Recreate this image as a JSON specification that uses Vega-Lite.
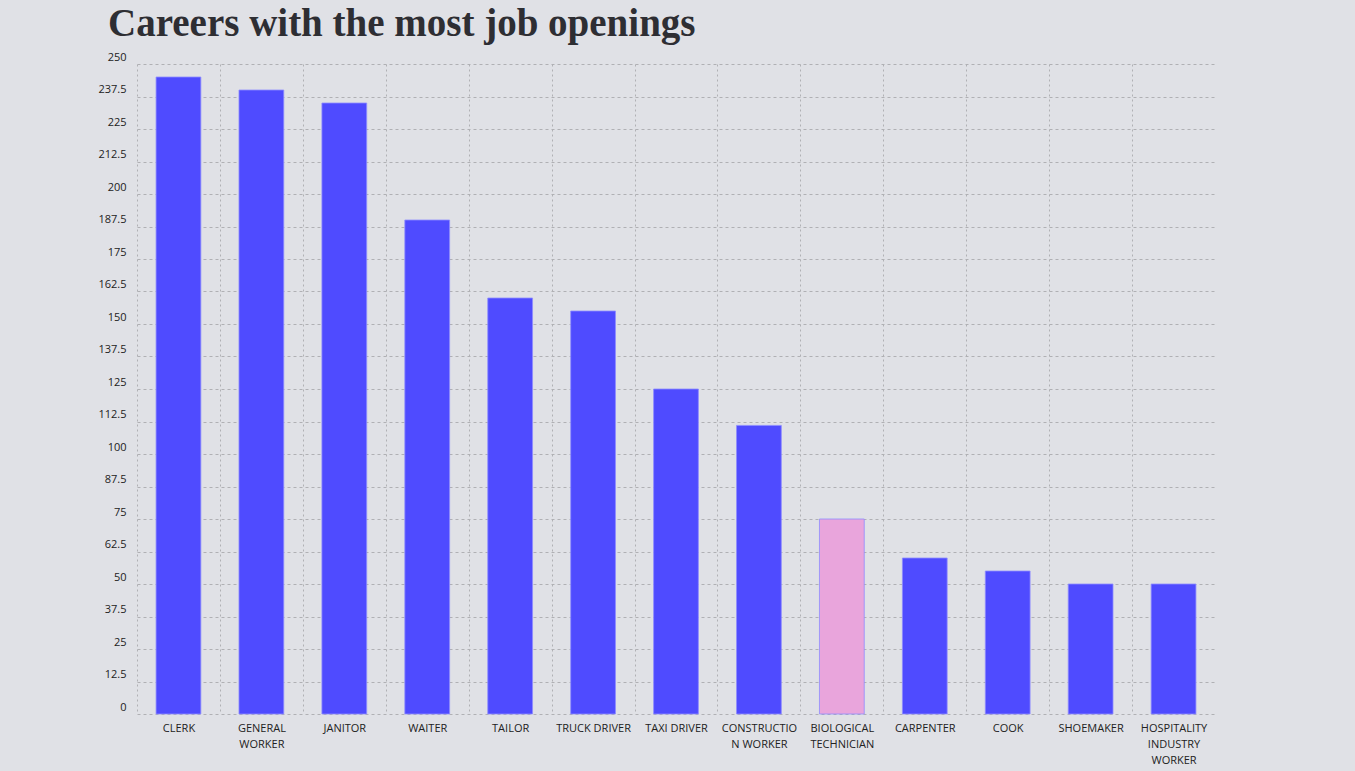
{
  "$schema": "https://vega.github.io/schema/vega-lite/v6.json",
  "autosize": {"type": "none"},
  "padding": {"left": 137, "top": 64, "right": 140, "bottom": 57},
  "width": 1078,
  "height": 650,
  "background": "#e0e1e6",
  "config": {"view": {"stroke": null}, "font": "Open Sans"},
  "title": {
    "text": "Careers with the most job openings",
    "anchor": "start",
    "frame": "group",
    "dx": -29,
    "offset": 7,
    "font": "Liberation Serif",
    "fontSize": 39,
    "fontWeight": "bold",
    "color": "#2e2e33"
  },
  "data": {
    "values": [
      {"career": "CLERK", "openings": 245, "highlight": "no"},
      {"career": "GENERAL WORKER", "openings": 240, "highlight": "no"},
      {"career": "JANITOR", "openings": 235, "highlight": "no"},
      {"career": "WAITER", "openings": 190, "highlight": "no"},
      {"career": "TAILOR", "openings": 160, "highlight": "no"},
      {"career": "TRUCK DRIVER", "openings": 155, "highlight": "no"},
      {"career": "TAXI DRIVER", "openings": 125, "highlight": "no"},
      {"career": "CONSTRUCTION WORKER", "openings": 111, "highlight": "no"},
      {"career": "BIOLOGICAL TECHNICIAN", "openings": 75, "highlight": "yes"},
      {"career": "CARPENTER", "openings": 60, "highlight": "no"},
      {"career": "COOK", "openings": 55, "highlight": "no"},
      {"career": "SHOEMAKER", "openings": 50, "highlight": "no"},
      {"career": "HOSPITALITY INDUSTRY WORKER", "openings": 50, "highlight": "no"}
    ]
  },
  "mark": {"type": "bar", "stroke": "#8f8cff", "strokeWidth": 1, "strokeOpacity": 0.8},
  "encoding": {
    "x": {
      "field": "career",
      "type": "nominal",
      "sort": null,
      "scale": {"paddingInner": 0.46, "paddingOuter": 0.23},
      "axis": {
        "title": null,
        "labelAngle": 0,
        "domain": false,
        "ticks": false,
        "grid": true,
        "tickOffset": -41.46,
        "labelOffset": 41.46,
        "gridColor": "#b0b0b4",
        "gridDash": [2, 3],
        "gridWidth": 1,
        "labelFont": "Open Sans",
        "labelFontSize": 11,
        "labelColor": "#222222",
        "labelPadding": 8,
        "labelLineHeight": 16,
        "labelExpr": "datum.label == 'GENERAL WORKER' ? ['GENERAL', 'WORKER'] : datum.label == 'CONSTRUCTION WORKER' ? ['CONSTRUCTIO', 'N WORKER'] : datum.label == 'BIOLOGICAL TECHNICIAN' ? ['BIOLOGICAL', 'TECHNICIAN'] : datum.label == 'HOSPITALITY INDUSTRY WORKER' ? ['HOSPITALITY', 'INDUSTRY', 'WORKER'] : datum.label"
      }
    },
    "y": {
      "field": "openings",
      "type": "quantitative",
      "scale": {"domain": [0, 250], "nice": false},
      "axis": {
        "title": null,
        "values": [0, 12.5, 25, 37.5, 50, 62.5, 75, 87.5, 100, 112.5, 125, 137.5, 150, 162.5, 175, 187.5, 200, 212.5, 225, 237.5, 250],
        "format": ".1~f",
        "domain": false,
        "ticks": false,
        "grid": true,
        "gridColor": "#b0b0b4",
        "gridDash": [3, 3],
        "gridWidth": 1,
        "labelFont": "Open Sans",
        "labelFontSize": 11,
        "labelColor": "#222222",
        "labelPadding": 11,
        "labelBaseline": "bottom",
        "labelOffset": -2
      }
    },
    "color": {
      "field": "highlight",
      "type": "nominal",
      "scale": {"domain": ["no", "yes"], "range": ["#4f4bff", "#e9a5dc"]},
      "legend": null
    }
  }
}
